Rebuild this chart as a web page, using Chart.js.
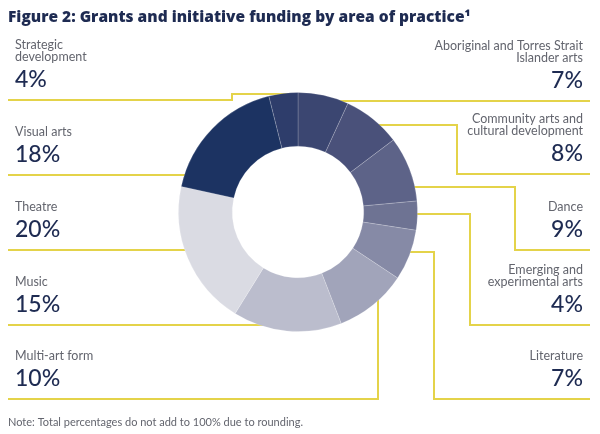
<!DOCTYPE html>
<html>
<head>
<meta charset="utf-8">
<script src="https://cdn.jsdelivr.net/npm/chart.js@4.4.0/dist/chart.umd.min.js"></script>
<style>
  html, body { margin: 0; padding: 0; background: #ffffff; }
  #wrap { position: relative; width: 600px; height: 434px; }
</style>
</head>
<body>
<div id="wrap"><canvas id="c" width="600" height="434"></canvas></div>
<script>
// ---- Data ----
const categories = [
  ['Aboriginal and Torres Strait', 'Islander arts'],
  ['Community arts and', 'cultural development'],
  ['Dance'],
  ['Emerging and', 'experimental arts'],
  ['Literature'],
  ['Multi-art form'],
  ['Music'],
  ['Theatre'],
  ['Visual arts'],
  ['Strategic', 'development']
];
const values = [7, 8, 9, 4, 7, 10, 15, 20, 18, 4];
const sliceColors = [
  '#3b4671', '#4a517a', '#5d6388', '#6e7393', '#868aa6',
  '#a1a4ba', '#bbbdcd', '#dadbe3', '#1c3362', '#2e3d6b'
];
const titleText = 'Figure 2: Grants and initiative funding by area of practice\u00b9';
const noteText = 'Note: Total percentages do not add to 100% due to rounding.';

// ---- Layout (label placement & leader routes) ----
const LINE_COLOR = '#e4d34a';
const NAVY = '#1e2b52';
const GREY = '#63656e';
const placements = [
  { side: 'R', lineY: 101, route: [], end: { type: 'h', y: 101 } },
  { side: 'R', lineY: 174, route: [[457, 174], [457, 125]], end: { type: 'h', y: 125 } },
  { side: 'R', lineY: 250, route: [[515, 250], [515, 187]], end: { type: 'h', y: 187 } },
  { side: 'R', lineY: 325, route: [[470, 325], [470, 214]], end: { type: 'h', y: 214 } },
  { side: 'R', lineY: 399, route: [[434, 399], [434, 252]], end: { type: 'h', y: 252 } },
  { side: 'L', lineY: 399, route: [[378, 399]], end: { type: 'v', x: 378 } },
  { side: 'L', lineY: 325, route: [], end: { type: 'h', y: 325 } },
  { side: 'L', lineY: 250, route: [], end: { type: 'h', y: 250 } },
  { side: 'L', lineY: 175, route: [], end: { type: 'h', y: 175 } },
  { side: 'L', lineY: 100, route: [[232, 100], [232, 94]], end: { type: 'h', y: 94 } }
];
const LEFT_X = 8, RIGHT_X = 590;

function ringGeom(chart) {
  const arc = chart.getDatasetMeta(0).data[0];
  return { cx: arc.x, cy: arc.y, R: arc.outerRadius, r: arc.innerRadius };
}

const leaderPlugin = {
  id: 'leaders',
  beforeDatasetsDraw(chart) {
    const ctx = chart.ctx;
    const g = ringGeom(chart);
    const rr = g.R - 3;
    ctx.save();
    ctx.strokeStyle = LINE_COLOR;
    ctx.lineWidth = 2;
    ctx.lineJoin = 'miter';
    placements.forEach((p) => {
      const startX = p.side === 'L' ? LEFT_X : RIGHT_X;
      ctx.beginPath();
      ctx.moveTo(startX, p.lineY);
      p.route.forEach(pt => ctx.lineTo(pt[0], pt[1]));
      let ex, ey;
      if (p.end.type === 'h') {
        ey = p.end.y;
        const dy = ey - g.cy;
        const dx = Math.abs(dy) < rr ? Math.sqrt(rr * rr - dy * dy) : 0;
        const fromX = p.route.length ? p.route[p.route.length - 1][0] : startX;
        ex = fromX < g.cx ? g.cx - dx : g.cx + dx;
      } else {
        ex = p.end.x;
        const dx = ex - g.cx;
        const dy = Math.sqrt(Math.max(0, rr * rr - dx * dx));
        ey = g.cy + dy;
      }
      ctx.lineTo(ex, ey);
      ctx.stroke();
    });
    ctx.restore();
  },
  afterDraw(chart) {
    const ctx = chart.ctx;
    ctx.save();
    // title
    ctx.fillStyle = NAVY;
    ctx.textBaseline = 'alphabetic';
    ctx.textAlign = 'left';
    ctx.font = '800 15.5px "Open Sans"';
    ctx.fillText(titleText, 8, 22);
    // labels
    placements.forEach((p, i) => {
      const x = p.side === 'L' ? 15 : 583;
      ctx.textAlign = p.side === 'L' ? 'left' : 'right';
      ctx.textBaseline = 'middle';
      const lines = categories[i];
      ctx.font = '12.5px Lato';
      ctx.fillStyle = GREY;
      const lastY = p.lineY - 43;
      lines.forEach((ln, k) => {
        ctx.fillText(ln, x, lastY - (lines.length - 1 - k) * 12.5);
      });
      ctx.font = '500 23px Lato';
      ctx.fillStyle = NAVY;
      ctx.fillText(values[i] + '%', x, p.lineY - 20);
    });
    // note
    ctx.textAlign = 'left';
    ctx.textBaseline = 'middle';
    ctx.font = '11px Lato';
    ctx.fillStyle = GREY;
    ctx.fillText(noteText, 8, 422);
    ctx.restore();
  }
};

new Chart(document.getElementById('c'), {
  type: 'doughnut',
  data: {
    labels: categories,
    datasets: [{
      data: values,
      backgroundColor: sliceColors,
      borderColor: 'rgba(255,255,255,0.18)',
      borderWidth: 1
    }]
  },
  options: {
    responsive: false,
    animation: false,
    cutout: '55%',
    layout: { padding: { left: 178, right: 182, top: 92, bottom: 102 } },
    plugins: { legend: { display: false }, tooltip: { enabled: false } }
  },
  plugins: [leaderPlugin]
});
</script>
</body>
</html>
